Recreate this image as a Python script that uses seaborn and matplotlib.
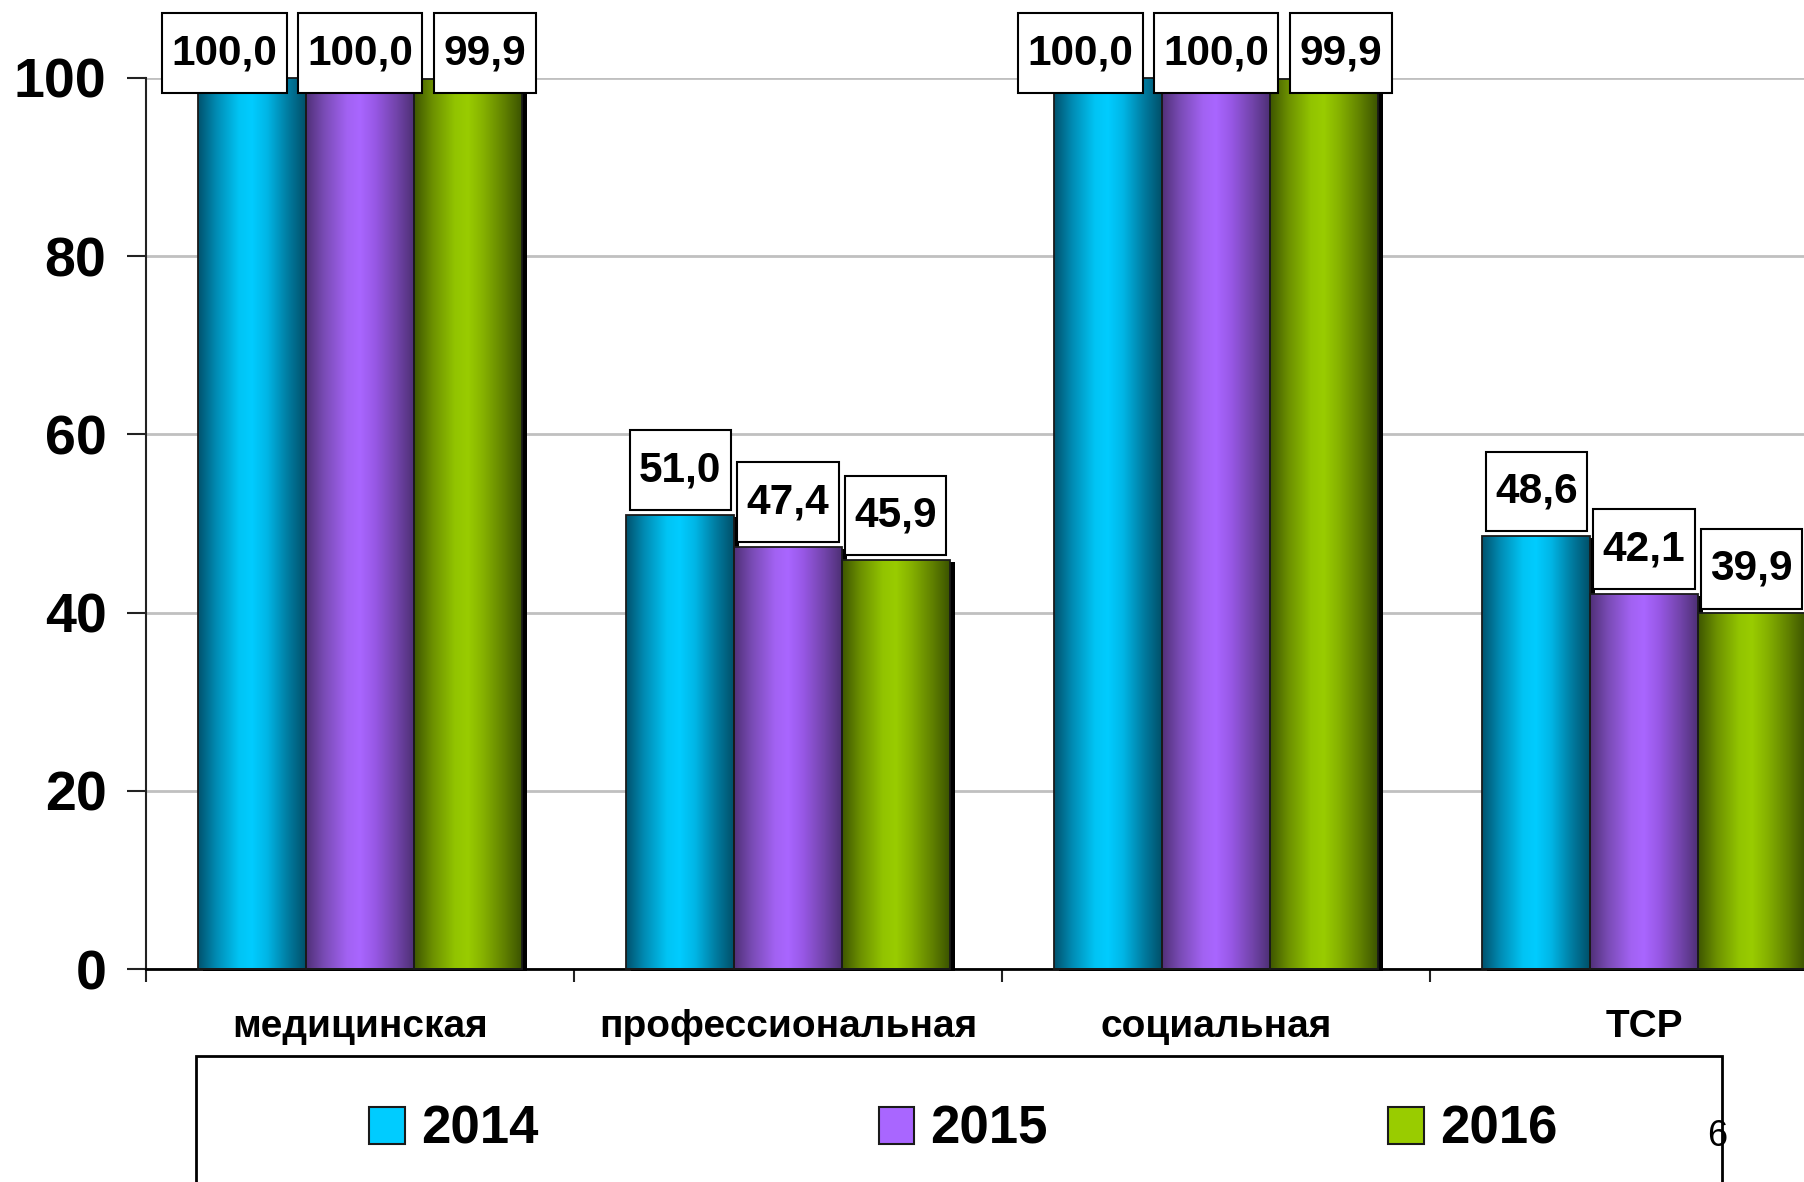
import numpy as np
import pandas as pd
import matplotlib
matplotlib.use("Agg")
import matplotlib.pyplot as plt
import seaborn as sns
from matplotlib import patheffects
from matplotlib.colors import LinearSegmentedColormap
from matplotlib.patches import Rectangle
from matplotlib.path import Path

# --- data ---
categories = ["медицинская", "профессиональная", "социальная", "ТСР"]
years = ["2014", "2015", "2016"]
v2014 = [100.0, 51.0, 100.0, 48.6]
v2015 = [100.0, 47.4, 100.0, 42.1]
v2016 = [99.9, 45.9, 99.9, 39.9]
y_ticks = [0, 20, 40, 60, 80, 100]
page_number = "6"

# mid colour + cylinder-like shading for each year
mid_colors = ["#00CCFF", "#A966FF", "#99CC00"]
shades = [
    ["#00526E", "#008CB4", "#00C4F4", "#00CCFF", "#00B6E6", "#007A9E", "#00506A"],
    ["#503078", "#7A4CB6", "#A262F2", "#A966FF", "#9858E6", "#7244AA", "#4E3076"],
    ["#3E5600", "#6C9000", "#92C400", "#99CC00", "#86B200", "#608000", "#3C5400"],
]
stops = [0.0, 0.17, 0.38, 0.5, 0.64, 0.84, 1.0]

df = pd.DataFrame({
    "category": categories * 3,
    "year": [y for y in years for _ in categories],
    "value": v2014 + v2015 + v2016,
})


def label_box(x0, y0, width, height, mutation_size):
    # square box, more padding top/bottom than left/right (like the Excel labels)
    px, py = 0.22 * mutation_size, 0.47 * mutation_size
    x0, y0 = x0 - px, y0 - py
    x1, y1 = x0 + width + 2 * px, y0 + height + 2 * py
    return Path([(x0, y0), (x1, y0), (x1, y1), (x0, y1), (x0, y0)],
                [Path.MOVETO, Path.LINETO, Path.LINETO, Path.LINETO, Path.CLOSEPOLY])


W, H = 1804, 1182
sns.set_style("white")
plt.rcParams["font.family"] = ["Liberation Sans", "DejaVu Sans"]
plt.rcParams["text.color"] = "black"
plt.rcParams["xtick.color"] = "black"
plt.rcParams["ytick.color"] = "black"

fig = plt.figure(figsize=(W / 100, H / 100), dpi=100)
# axes runs past the right edge, like the cropped original slide
ax = fig.add_axes([146 / W, 213 / H, 1712 / W, 891 / H])

sns.barplot(data=df, x="category", y="value", hue="year", order=categories,
            hue_order=years, palette=mid_colors, saturation=1, width=0.755,
            legend=False, ax=ax, zorder=2)

# labels pushed to the top of the chart area get nudged apart sideways
top_nudge = [-0.065, 0.0, 0.04]

for i, cont in enumerate(ax.containers):
    cmap = LinearSegmentedColormap.from_list(f"c{i}", list(zip(stops, shades[i])))
    grad = np.linspace(0, 1, 256).reshape(1, -1)
    for bar, val in zip(cont.patches, cont.datavalues):
        bar.set_linewidth(0)
        bar.set_clip_on(False)
        bar.set_path_effects([
            patheffects.SimplePatchShadow(offset=(3.6, -1.6), shadow_rgbFace="black", alpha=1.0),
            patheffects.Normal(),
        ])
        x0, y0 = bar.get_x(), bar.get_y()
        x1, y1 = x0 + bar.get_width(), y0 + bar.get_height()
        im = ax.imshow(grad, extent=[x0, x1, y0, y1], cmap=cmap, aspect="auto",
                       interpolation="bilinear", zorder=2.5)
        im.set_clip_path(bar)
        ax.add_patch(Rectangle((x0, y0), x1 - x0, y1 - y0, fill=False,
                               edgecolor="#1a1a1a", lw=1.3, zorder=2.6, clip_on=False))
        # value label in a white box (Excel keeps it inside the chart area)
        ly = val + 5.0
        lx = (x0 + x1) / 2
        if ly > 102.8:
            ly = 102.8
            lx += top_nudge[i]
        ax.text(lx, ly, f"{val:.1f}".replace(".", ","),
                ha="center", va="center", fontsize=30.5, fontweight="bold", zorder=6,
                clip_on=False,
                bbox=dict(boxstyle=label_box, facecolor="white",
                          edgecolor="black", lw=1.5))

ax.set_xlim(-0.5, 3.5)
ax.set_ylim(0, 100)

# axes styling
sns.despine(ax=ax, top=True, right=True)
ax.spines["left"].set_color("#222222")
ax.spines["left"].set_linewidth(1.5)
ax.spines["bottom"].set_color("black")
ax.spines["bottom"].set_linewidth(2)
ax.yaxis.grid(True, color="#C0C0C0", lw=2)
ax.set_axisbelow(True)

ax.set_yticks(y_ticks)
ax.set_yticklabels([str(t) for t in y_ticks], fontsize=40, fontweight="bold")
ax.tick_params(axis="y", direction="out", length=13.5, width=1.5, pad=15,
               color="#222222", left=True)

ax.set_xticks(range(len(categories)))
ax.set_xticklabels(categories, fontsize=28, fontweight="bold")
ax.set_xticks(np.arange(-0.5, len(categories), 1.0), minor=True)
ax.tick_params(axis="x", which="major", length=0, pad=29)
ax.tick_params(axis="x", which="minor", direction="out", length=9, width=1.5,
               color="#222222", bottom=True)
ax.set_xlabel("")
ax.set_ylabel("")

# legend with its frame running off the bottom of the slide
handles = [Rectangle((0, 0), 1, 1, facecolor=c, edgecolor="#1a1a1a", lw=1.5)
           for c in mid_colors]
fig.legend(handles, years, loc="center left", bbox_to_anchor=(369 / W, 1 - 1130 / H),
           ncol=3, frameon=False, prop={"size": 38, "weight": "bold"},
           handlelength=0.68, handleheight=0.68, handletextpad=0.3,
           columnspacing=6.45, borderpad=0, borderaxespad=0)
fig.patches.append(Rectangle((196 / W, -0.05), (1722 - 196) / W, 0.05 + 1 - 1056 / H,
                             transform=fig.transFigure, fill=False,
                             edgecolor="black", lw=2))

fig.text(1717 / W, 1 - 1137 / H, page_number, ha="center", va="center", fontsize=26)

plt.savefig("out.png", dpi=100)
plt.close()
